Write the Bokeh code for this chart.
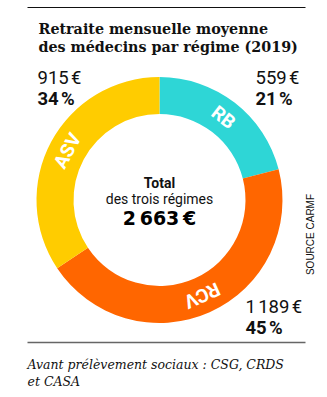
import math
from bokeh.plotting import figure
from bokeh.models import Range1d
from bokeh.core.properties import value
from bokeh.embed import file_html
from bokeh.resources import INLINE

# ---- data ----
regimes = ["RB", "RCV", "ASV"]
amounts = [559, 1189, 915]          # € / month
colors = ["#2ED6D6", "#FF6600", "#FFCC00"]
title_lines = ["Retraite mensuelle moyenne", "des médecins par régime (2019)"]
center_lines = ["Total", "des trois régimes"]
note_lines = ["Avant prélèvement sociaux : CSG, CRDS", "et CASA"]
source = "SOURCE CARMF"

W, H = 327, 397
def Y(y):
    return H - y

COND = "Roboto"
SERIF = "DejaVu Serif"

def fmt(v):
    return f"{v:,}".replace(",", "\u202f") + "\u202f€"

total = sum(amounts)
shares = [a / total for a in amounts]

p = figure(width=W, height=H, output_backend="svg", toolbar_location=None,
           x_range=Range1d(0, W), y_range=Range1d(0, H), min_border=0)
p.axis.visible = False
p.grid.visible = False
p.outline_line_color = None
p.background_fill_color = "white"

# ---- donut ----
cx, cy = 159, Y(199.5)
r_in, r_out = 86, 123
starts, ends, mids = [], [], []
cum = 0.0
for s in shares:
    a0 = 90 - (cum + s) * 360
    a1 = 90 - cum * 360
    starts.append(math.radians(a0))
    ends.append(math.radians(a1))
    mids.append((a0 + a1) / 2)
    cum += s
p.annular_wedge(x=cx, y=cy, inner_radius=r_in, outer_radius=r_out,
                start_angle=starts, end_angle=ends,
                fill_color=colors, line_color=None)

# segment labels along ring
r_lab = (r_in + r_out) / 2
lx = [cx + r_lab * math.cos(math.radians(m)) for m in mids]
ly = [cy + r_lab * math.sin(math.radians(m)) for m in mids]
la = [math.radians(m - 90) for m in mids]
p.text(x=lx, y=ly, text=regimes, angle=la, text_font=value(COND),
       text_font_style="bold", text_font_size=value("19px"), text_color="white",
       text_align="center", text_baseline="middle")

# ---- value labels ----
pcts = [f"{round(s*100)}\u202f%" for s in shares]
pos = {"RB": (255, 77), "RCV": (245, 306), "ASV": (37, 77)}
for reg, amt, pc in zip(regimes, amounts, pcts):
    x0, yb = pos[reg]
    p.text(x=[x0], y=[Y(yb)], text=[fmt(amt)], text_font=value(COND),
           text_font_size=value("18.5px"), text_color="#111111",
           text_align="left", text_baseline="alphabetic")
    p.text(x=[x0], y=[Y(yb + 21)], text=[pc], text_font=value(COND),
           text_font_style="bold", text_font_size=value("18.5px"), text_color="#111111",
           text_align="left", text_baseline="alphabetic")

# ---- center text ----
p.text(x=[cx], y=[Y(182)], text=[center_lines[0]], text_font=value(COND),
       text_font_style="bold", text_font_size=value("14px"), text_color="#111111",
       text_align="center", text_baseline="alphabetic")
p.text(x=[cx], y=[Y(198)], text=[center_lines[1]], text_font=value(COND),
       text_font_size=value("14px"), text_color="#111111",
       text_align="center", text_baseline="alphabetic")
p.text(x=[cx], y=[Y(217)], text=[fmt(total)], text_font=value("DejaVu Sans"),
       text_font_style="bold", text_font_size=value("19px"), text_color="#000000",
       text_align="center", text_baseline="alphabetic")

# ---- title ----
p.segment(x0=[27], y0=[Y(7)], x1=[305], y1=[Y(7)], line_color="#111111", line_width=1)
for i, t in enumerate(title_lines):
    p.text(x=[38], y=[Y(28 + 18 * i)], text=[t], text_font=value(SERIF),
           text_font_style="bold", text_font_size=value("14.3px"), text_color="#111111",
           text_align="left", text_baseline="alphabetic")

# ---- source ----
p.text(x=[310], y=[Y(234)], text=[source], angle=math.pi / 2,
       text_font=value("Liberation Sans"), text_font_size=value("10px"),
       text_color="#111111", text_align="center", text_baseline="middle")

# ---- footnote ----
p.segment(x0=[27], y0=[Y(342)], x1=[305], y1=[Y(342)], line_color="#666666", line_width=1.5)
for i, t in enumerate(note_lines):
    p.text(x=[27], y=[Y(364 + 17 * i)], text=[t], text_font=value(SERIF),
           text_font_style="italic", text_font_size=value("12.5px"), text_color="#111111",
           text_align="left", text_baseline="alphabetic")

open("out.html", "w").write(file_html(p, INLINE))
